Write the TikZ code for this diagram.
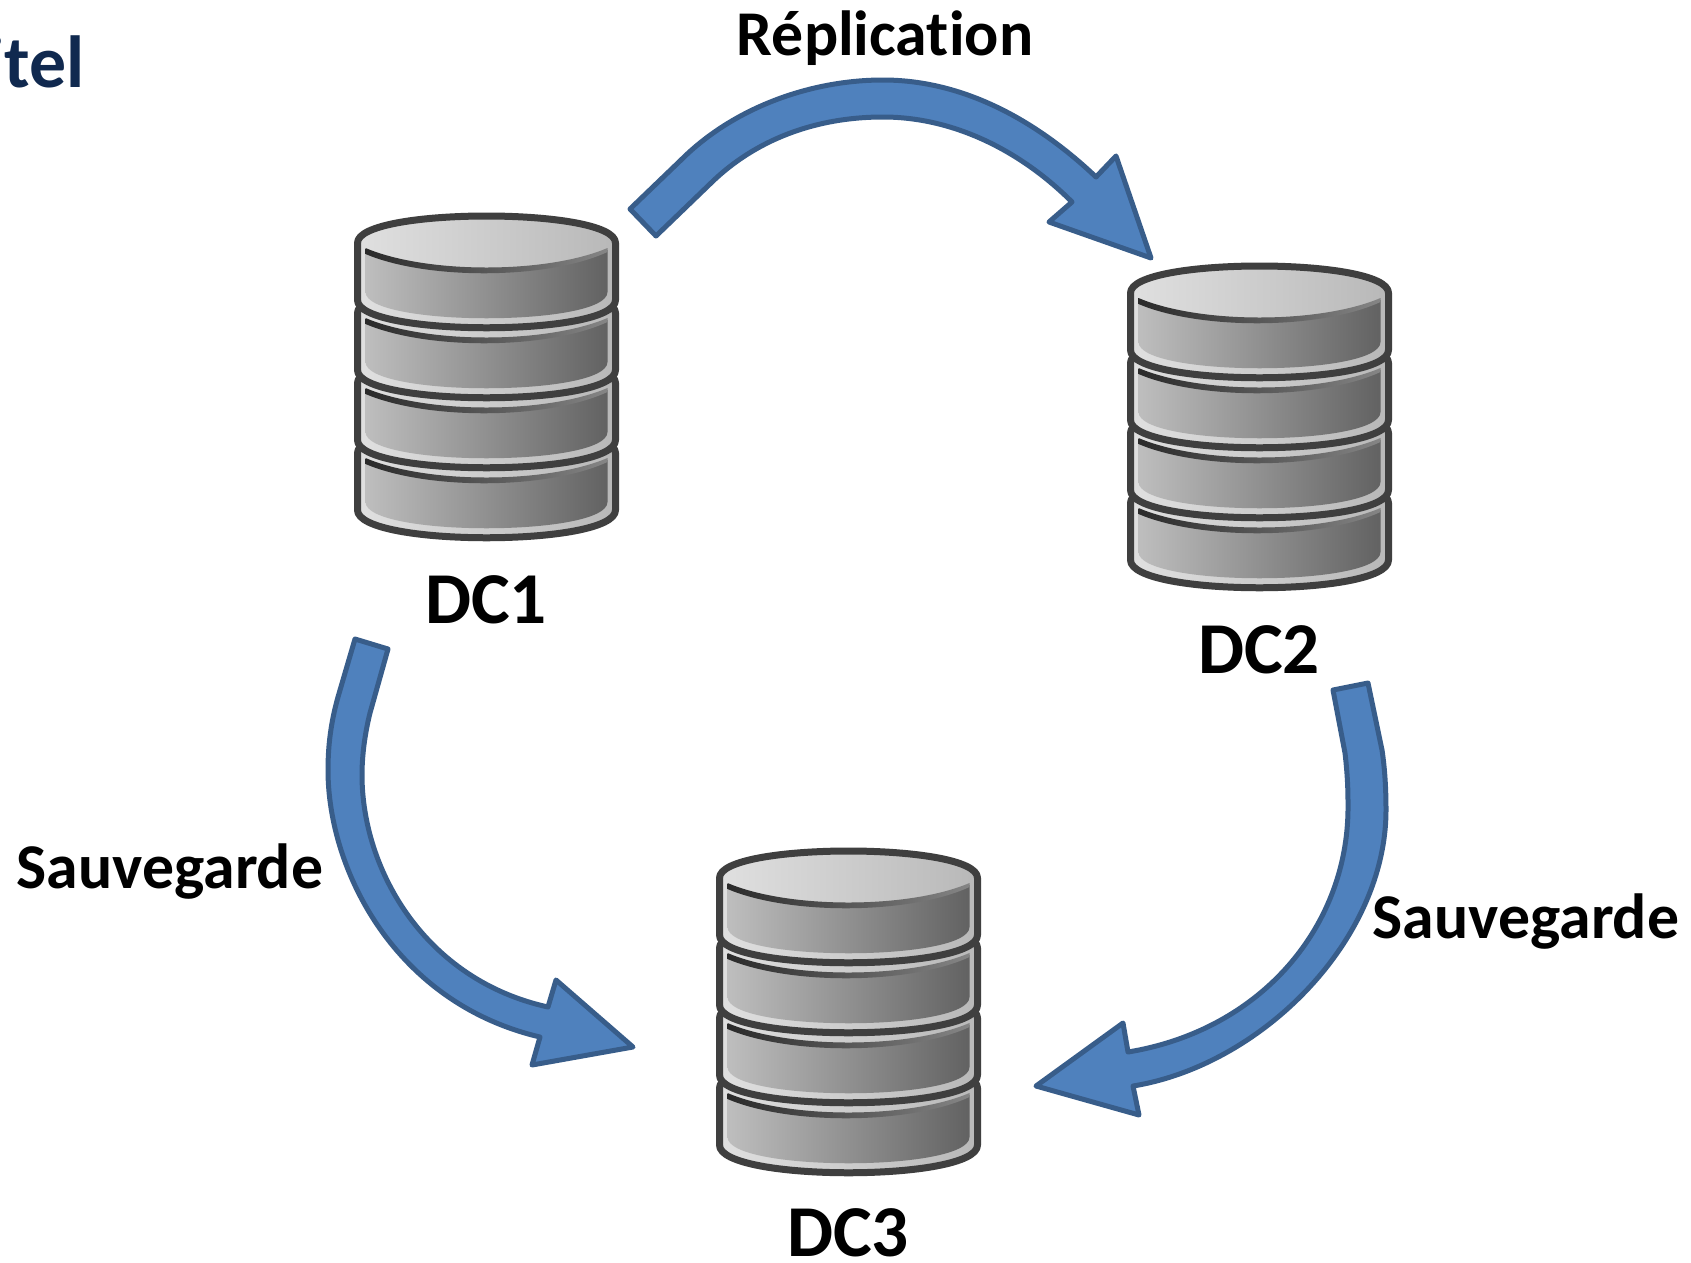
\documentclass[tikz,border=0pt]{standalone}
\usepackage{fontspec}
\setmainfont{Carlito}[BoldFont={Carlito Bold},Ligatures=NoCommon]
\definecolor{arrowfill}{HTML}{4F81BD}
\definecolor{arrowline}{HTML}{385D8A}
\definecolor{titleblue}{HTML}{10294F}
\definecolor{diskline}{HTML}{3F3F3F}
\definecolor{rimleft}{HTML}{E0E0E0}
\definecolor{rimright}{HTML}{B8B8B8}
\definecolor{bodyleft}{HTML}{BEBEBE}
\definecolor{bodyright}{HTML}{626262}
\definecolor{shadowleft}{HTML}{2A2A2A}
\definecolor{shadowmid}{HTML}{6A6A6A}
\definecolor{shadowright}{HTML}{858585}
\tikzset{
  blockarrow/.style={fill=arrowfill,draw=arrowline,line width=0.1cm,line join=round},
  disklayer/.style={left color=rimleft,right color=rimright,draw=diskline,line width=0.14cm,line join=round},
  diskbody/.style={left color=bodyleft,right color=bodyright},
  diskshadow/.style={left color=shadowleft,middle color=shadowmid,right color=shadowright},
  lbl/.style={anchor=base,inner sep=0pt,font=\bfseries\fontsize{36.3}{36.3}\selectfont},
  dclbl/.style={anchor=base,inner sep=0pt,font=\bfseries\fontsize{41.6}{41.6}\selectfont},
  titlelbl/.style={anchor=base east,inner sep=0pt,text=titleblue,font=\bfseries\fontsize{42}{42}\selectfont}
}
\newcommand{\diskstack}[2]{%
  \begin{scope}[shift={(#1,#2)}]
    \foreach \k in {210,140,70,0}{
      \begin{scope}[yshift=-\k*0.02cm]
        \path[disklayer] (-129,243) -- (-129,300) .. controls (-129,337) and (129,337) .. (129,300) -- (129,243) .. controls (129,207) and (-129,207) .. (-129,243) -- cycle;
        \shade[diskbody] (-121,250) .. controls (-60,274) and (60,274) .. (121,250) -- (121,292) .. controls (121,327) and (-121,327) .. (-121,292) -- cycle;
        \shade[diskshadow] (-121,248) .. controls (-60,274) and (60,274) .. (121,248) -- (121,252) .. controls (60,280) and (-60,280) .. (-121,254) -- cycle;
      \end{scope}
    }
  \end{scope}
}
\begin{document}
\begin{tikzpicture}[x=0.02cm,y=-0.02cm]
\useasboundingbox (0,0) rectangle (1691,1262);
\clip (0,0) rectangle (1691,1262);
\fill[white] (0,0) rectangle (1691,1262);

\node[titlelbl] (title) at (85,87) {itel};

\diskstack{486.5}{0}
\diskstack{1259.5}{50}
\diskstack{848.5}{635}

\node[dclbl] (dc1) at (486,623) {DC1};
\node[dclbl] (dc2) at (1259,673) {DC2};
\node[dclbl] (dc3) at (848,1256) {DC3};

\node[lbl] (rep) at (885,55) {Réplication};
\node[lbl] (sav1) at (170,888) {Sauvegarde};
\node[lbl] (sav2) at (1526,938) {Sauvegarde};

% DC1 -> DC2
\draw[blockarrow] (630,209) -- (681,160) .. controls (733,108) and (810,80) .. (883,80)
  .. controls (965,80) and (1038,122) .. (1096,177) -- (1116,156) -- (1151,258) -- (1049,222) -- (1072,202)
  .. controls (1022,152) and (955,117) .. (883,117) .. controls (815,117) and (755,140) .. (711,183) -- (656,236) -- cycle;
% DC1 -> DC3
\draw[blockarrow] (355,639) -- (338,697) .. controls (331,722) and (328,745) .. (328,770)
  .. controls (328,870) and (395,1003) .. (540,1037)
  -- (532,1065) -- (633,1047) -- (556,980) -- (548,1007)
  .. controls (425,980) and (362,870) .. (362,775)
  .. controls (362,755) and (365,733) .. (370,713) -- (388,649) -- cycle;
% DC2 -> DC3
\draw[blockarrow] (1368,683) -- (1382,750) .. controls (1385,770) and (1386,790) .. (1386,810)
  .. controls (1386,940) and (1262,1065) .. (1133,1086)
  -- (1139,1115) -- (1036,1086) -- (1123,1023) -- (1128,1052)
  .. controls (1262,1030) and (1350,925) .. (1348,803)
  .. controls (1348,785) and (1347,770) .. (1345,753) -- (1333,690) -- cycle;
\end{tikzpicture}
\end{document}
